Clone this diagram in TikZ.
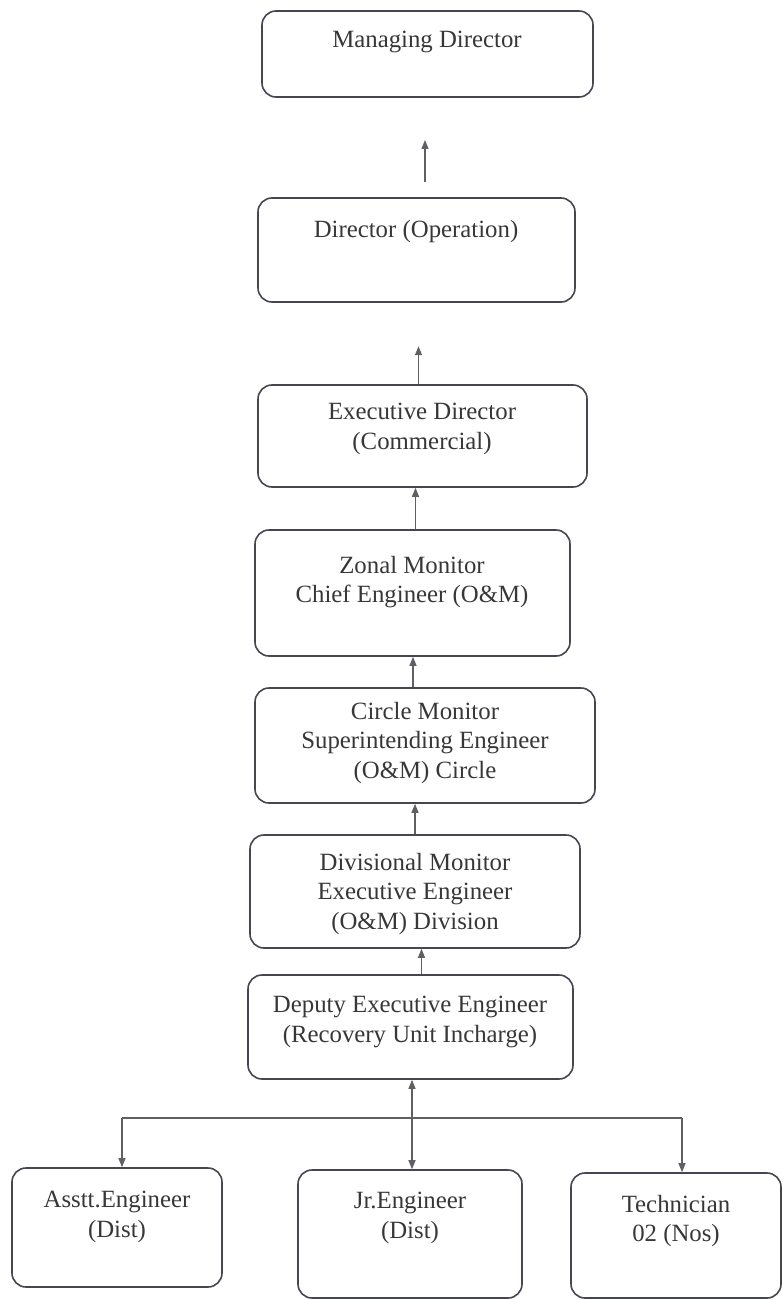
\documentclass[tikz,border=0pt]{standalone}
\usepackage{fontspec}
\setmainfont{Liberation Serif}
\usetikzlibrary{arrows.meta,calc}
\definecolor{boxline}{RGB}{70,70,82}
\definecolor{txt}{RGB}{55,55,55}
\definecolor{arrcol}{RGB}{95,95,100}
\tikzset{
  box/.style={draw=boxline,line width=1.6pt,rounded corners=14pt,inner sep=0pt},
  lbl/.style={text=txt,align=center,font=\fontsize{24.8}{29.5}\selectfont,inner sep=0pt},
  arr/.style={draw=arrcol,line width=1.2pt,-{Triangle[width=7pt,length=9pt]}},
  ln/.style={draw=arrcol,line width=1.4pt}
}
\newcommand{\mybox}[5]{% name, x1, y1, x2, y2
  \node[box,minimum width=#4-#2,minimum height=#5-#3] (#1) at ({(#2+#4)/2},{(#3+#5)/2}) {};}
\begin{document}
\begin{tikzpicture}[x=1pt,y=-1pt]
\useasboundingbox (0,0) rectangle (783,1300);
% boxes
\mybox{md}{262}{11}{593}{97}
\mybox{dop}{258}{198}{575}{302}
\mybox{ed}{258}{385}{587}{487}
\mybox{zm}{255}{530}{570}{656}
\mybox{cm}{255}{688}{595}{803}
\mybox{dm}{250}{835}{580}{948}
\mybox{dee}{248}{975}{573}{1079}
\mybox{ae}{12}{1168}{222}{1287}
\mybox{je}{298}{1170}{522}{1298}
\mybox{te}{571}{1173}{781}{1298}
% texts
\node[lbl] (mdT) at (427,42) {Managing Director};
\node[lbl] (dopT) at (416,232) {Director (Operation)};
\node[lbl] (edT) at (422,429) {Executive Director\\(Commercial)};
\node[lbl] (zmT) at (412,582) {Zonal Monitor\\Chief Engineer (O\&M)};
\node[lbl] (cmT) at (425,743) {Circle Monitor\\Superintending Engineer\\(O\&M) Circle};
\node[lbl] (dmT) at (415,894) {Divisional Monitor\\Executive Engineer\\(O\&M) Division};
\node[lbl] (deeT) at (410,1022) {Deputy Executive Engineer\\(Recovery Unit Incharge)};
\node[lbl] (aeT) at (117,1217) {Asstt.Engineer\\(Dist)};
\node[lbl] (jeT) at (410,1218) {Jr.Engineer\\(Dist)};
\node[lbl] (teT) at (676,1221) {Technician\\02 (Nos)};
% vertical connectors
\coordinate (a1s) at (425,182);
\coordinate (a1e) at (425,140);
\draw[arr] (a1s) -- (a1e);
\coordinate (a2) at ($(ed.north)+(-4,0)$);
\draw[arr] (a2) -- ++(0,-38);
\coordinate (a3) at ($(zm.north)+(3,0)$);
\draw[arr] (a3) -- (a3 |- ed.south);
\coordinate (a4) at ($(cm.north)+(-12,0)$);
\draw[arr] (a4) -- (a4 |- zm.south);
\coordinate (a5) at ($(dm.north)+(0,0)$);
\draw[arr] (a5) -- (a5 |- cm.south);
\coordinate (a6) at ($(dee.north)+(11,0)$);
\draw[arr] (a6) -- (a6 |- dm.south);
% bottom tree
\coordinate (hl) at (122,1118);
\coordinate (hm) at (412,1118);
\coordinate (hr) at (682,1118);
\draw[ln] (hl) -- (hr);
\draw[arr] (hm) -- (hm |- dee.south);
\draw[arr] (hl) -- (hl |- ae.north);
\draw[arr] (hm) -- (hm |- je.north);
\draw[arr] (hr) -- (hr |- te.north);
\end{tikzpicture}
\end{document}
